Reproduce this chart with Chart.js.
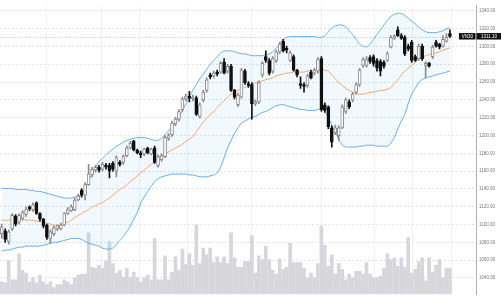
<!DOCTYPE html>
<html><head><meta charset="utf-8">
<script src="https://cdn.jsdelivr.net/npm/chart.js@4/dist/chart.umd.min.js"></script>
<style>html,body{margin:0;padding:0;background:#fff;overflow:hidden}#wrap{width:501px;height:300px}</style>
</head><body><div id="wrap"><canvas id="c" width="501" height="300"></canvas></div>
<script>
const symbol = 'VN30';
const lastPrice = 1311.10;
const priceTicks = [1040,1060,1080,1100,1120,1140,1160,1180,1200,1220,1240,1260,1280,1300,1320,1340];
const gridIdx = [2.1,23.4,34.0,45.3,61.4,82.4,101.7,112.6,123.9];

const open = [1089.7,1093.0,1081.1,1095.1,1109.2,1102.7,1107.0,1111.3,1120.0,1116.7,
1124.3,1112.4,1105.9,1099.4,1084.3,1089.7,1095.1,1095.1,1099.4,1112.4,
1115.6,1116.7,1127.5,1138.4,1132.9,1144.8,1155.6,1161.0,1164.3,1162.1,
1166.4,1166.4,1168.6,1160.0,1169.7,1169.7,1177.2,1185.9,1193.4,1183.7,
1180.5,1179.4,1185.9,1179.4,1185.9,1166.4,1172.9,1176.2,1196.7,1201.0,
1212.9,1218.3,1229.1,1241.0,1244.2,1241.0,1242.0,1221.5,1239.9,1250.7,
1268.0,1266.9,1271.2,1271.2,1282.0,1272.3,1277.7,1250.7,1234.5,1243.1,
1272.3,1258.2,1257.2,1235.6,1237.7,1268.0,1288.5,1284.2,1272.3,1284.2,
1293.9,1305.8,1298.2,1284.2,1288.5,1273.4,1258.2,1257.2,1256.1,1271.2,
1270.1,1272.3,1286.3,1234.5,1232.3,1208.6,1203.2,1199.9,1208.6,1226.9,
1237.7,1239.9,1248.5,1257.2,1278.8,1278.8,1287.4,1288.5,1284.2,1283.1,
1282.0,1284.2,1299.3,1309.0,1318.7,1312.2,1310.1,1300.4,1304.7,1288.5,
1286.3,1300.4,1278.8,1280.9,1288.5,1304.7,1302.5,1300.4,1305.8,1314.4];

const high = [1100.5,1095.1,1094.0,1112.4,1111.3,1112.4,1115.6,1120.0,1121.0,1124.3,
1125.4,1113.5,1107.0,1100.5,1094.0,1098.4,1099.4,1101.6,1113.5,1118.9,
1122.1,1129.7,1134.0,1140.5,1147.0,1167.5,1164.3,1166.4,1166.4,1169.7,
1168.6,1168.6,1170.8,1177.2,1171.8,1178.3,1188.0,1193.4,1194.5,1184.8,
1182.6,1185.9,1187.0,1185.9,1188.0,1178.3,1179.4,1199.9,1202.1,1216.1,
1220.4,1229.1,1243.1,1246.4,1249.6,1245.3,1244.2,1236.6,1250.7,1264.7,
1270.1,1272.3,1273.4,1283.1,1286.3,1279.8,1279.8,1251.8,1247.4,1275.5,
1274.4,1260.4,1259.3,1239.9,1261.5,1283.1,1295.0,1286.3,1288.5,1296.0,
1304.7,1307.9,1300.4,1295.0,1290.6,1274.4,1265.8,1259.3,1269.0,1273.4,
1275.5,1287.4,1288.5,1236.6,1233.4,1210.7,1211.8,1210.7,1234.5,1242.0,
1239.9,1248.5,1259.3,1275.5,1287.4,1288.5,1289.6,1290.6,1286.3,1285.2,
1284.2,1293.9,1312.2,1313.3,1322.0,1314.4,1312.2,1302.5,1306.8,1290.6,
1302.5,1302.5,1283.1,1282.0,1301.4,1306.8,1303.6,1312.2,1314.4,1318.7];

const low = [1084.3,1080.0,1077.8,1093.0,1098.4,1100.5,1104.8,1109.2,1115.6,1114.6,
1111.3,1103.8,1096.2,1083.2,1078.9,1087.6,1093.0,1094.0,1098.4,1111.3,
1114.6,1115.6,1126.4,1130.8,1127.5,1143.8,1153.5,1158.9,1158.9,1160.0,
1162.1,1152.4,1160.0,1153.5,1165.4,1167.5,1176.2,1184.8,1182.6,1179.4,
1175.1,1177.2,1179.4,1178.3,1168.6,1164.3,1170.8,1175.1,1194.5,1198.8,
1210.7,1216.1,1226.9,1238.8,1237.7,1238.8,1222.6,1219.4,1237.7,1248.5,
1263.6,1264.7,1266.9,1270.1,1269.0,1270.1,1249.6,1241.0,1232.3,1242.0,
1257.2,1253.9,1218.3,1233.4,1235.6,1265.8,1282.0,1268.0,1270.1,1282.0,
1291.7,1293.9,1292.8,1283.1,1272.3,1265.8,1252.8,1248.5,1253.9,1263.6,
1268.0,1270.1,1226.9,1225.8,1207.5,1187.0,1201.0,1194.5,1207.5,1224.8,
1230.2,1237.7,1246.4,1255.0,1276.6,1276.6,1280.9,1277.7,1272.3,1266.9,
1275.5,1283.1,1298.2,1307.9,1311.2,1307.9,1289.6,1295.0,1282.0,1283.1,
1284.2,1284.2,1264.7,1276.6,1286.3,1299.3,1297.1,1299.3,1304.7,1310.1];

const close = [1097.3,1083.2,1091.9,1110.2,1100.5,1110.2,1113.5,1116.7,1117.8,1122.1,
1112.4,1105.9,1098.4,1085.4,1091.9,1096.2,1098.4,1099.4,1112.4,1116.7,
1120.0,1127.5,1131.9,1132.9,1144.8,1156.7,1162.1,1164.3,1161.0,1167.5,
1164.3,1160.0,1162.1,1175.1,1167.5,1176.2,1185.9,1191.3,1183.7,1180.5,
1178.3,1184.8,1180.5,1184.8,1169.7,1176.2,1177.2,1197.8,1199.9,1214.0,
1218.3,1226.9,1241.0,1244.2,1242.0,1243.1,1223.7,1234.5,1248.5,1262.6,
1265.8,1270.1,1269.0,1280.9,1270.1,1277.7,1250.7,1243.1,1245.3,1273.4,
1259.3,1256.1,1235.6,1237.7,1259.3,1280.9,1284.2,1270.1,1286.3,1293.9,
1302.5,1295.0,1296.0,1292.8,1273.4,1268.0,1256.1,1255.0,1266.9,1264.7,
1273.4,1285.2,1229.1,1228.0,1209.6,1192.4,1208.6,1208.6,1232.3,1239.9,
1232.3,1246.4,1257.2,1273.4,1285.2,1285.2,1283.1,1280.9,1275.5,1272.3,
1277.7,1291.7,1310.1,1311.2,1312.2,1309.0,1291.7,1297.1,1284.2,1284.2,
1300.4,1286.3,1280.9,1277.7,1299.3,1300.4,1299.3,1307.9,1310.1,1311.1];

const volume = [52,48,140,60,60,168,100,88,52,68,
48,80,52,40,52,28,40,40,60,52,
40,68,80,84,84,256,112,108,120,108,
140,220,128,88,100,72,108,72,92,68,
52,68,80,60,232,60,
60,160,60,92,156,100,188,124,168,120,
288,128,192,164,192,132,156,132,156,128,
256,152,112,112,136,136,244,88,160,144,
200,144,100,84,148,104,112,212,132,132,
132,108,68,88,68,128,
284,204,116,164,84,128,104,60,84,68,
96,96,84,132,84,68,68,76,108,168,
144,152,116,152,112,236,88,104,136,152,
56,152,92,120,144,68,108,108];

const bbUpper = [1140.5,1140.5,1140.5,1140.5,1139.4,1139.4,1139.4,1139.4,1138.3,1138.3,
1137.2,1137.2,1136.2,1135.1,1134.0,1132.9,1131.8,1130.8,1129.7,1129.7,
1129.7,1130.8,1131.8,1134.0,1140.5,1149.2,1156.7,1164.3,1170.8,1174.0,
1178.3,1181.6,1184.8,1188.0,1190.2,1192.4,1194.5,1195.6,1196.7,1197.8,
1197.8,1197.8,1196.7,1195.6,1194.5,1194.5,1196.7,1201.0,1205.3,1209.6,
1215.0,1220.4,1228.0,1235.6,1243.1,1250.7,1257.2,1263.6,1269.0,1274.4,
1279.8,1284.2,1288.5,1292.8,1295.0,1295.0,1295.0,1293.9,1292.8,1291.7,
1291.7,1290.6,1289.6,1289.6,1289.6,1289.6,1290.6,1291.7,1293.9,1298.2,
1302.5,1306.8,1310.1,1311.2,1311.2,1311.2,1311.2,1311.2,1311.2,1311.2,
1311.2,1310.1,1310.1,1312.2,1316.6,1320.9,1323.0,1324.1,1324.1,1322.0,
1317.6,1313.3,1307.9,1302.5,1300.4,1299.3,1302.5,1307.9,1313.3,1318.7,
1324.1,1329.5,1333.8,1336.0,1337.1,1337.1,1334.9,1331.7,1328.4,1325.2,
1322.0,1318.7,1316.6,1315.5,1315.5,1315.5,1316.6,1317.6,1319.8,1320.9];

const bbMiddle = [1104.8,1104.8,1104.8,1105.9,1105.9,1105.9,1105.9,1104.8,1104.8,1104.8,
1103.7,1103.7,1102.7,1101.6,1100.5,1099.4,1099.4,1099.4,1100.5,1102.7,
1104.8,1108.1,1110.2,1112.4,1114.6,1116.7,1120.0,1121.0,1123.2,1124.3,
1127.5,1129.7,1132.9,1136.2,1139.4,1141.6,1144.8,1148.1,1151.3,1154.6,
1157.8,1161.0,1164.3,1167.5,1170.8,1175.1,1177.2,1179.4,1181.6,1183.7,
1185.9,1188.0,1190.2,1193.4,1195.6,1198.8,1204.2,1209.6,1215.0,1219.4,
1223.7,1226.9,1231.2,1235.6,1238.8,1243.1,1246.4,1248.5,1250.7,1252.8,
1253.9,1256.1,1257.2,1259.3,1260.4,1261.5,1262.6,1263.6,1264.7,1266.9,
1268.0,1269.0,1270.1,1270.1,1271.2,1271.2,1271.2,1271.2,1272.3,1272.3,
1272.3,1273.4,1273.4,1273.4,1272.3,1268.0,1263.6,1259.3,1256.1,1252.8,
1250.7,1248.5,1247.4,1246.4,1246.4,1247.4,1248.5,1248.5,1249.6,1250.7,
1250.7,1251.8,1253.9,1258.2,1262.6,1268.0,1272.3,1275.5,1278.8,1282.0,
1285.2,1287.4,1289.6,1290.6,1291.7,1292.8,1293.9,1296.0,1297.1,1298.2];

const bbLower = [1070.3,1071.3,1071.3,1072.4,1073.5,1074.6,1074.6,1075.7,1075.7,1075.7,
1075.7,1075.7,1076.7,1077.8,1078.9,1080.0,1080.0,1081.1,1082.1,1083.2,
1084.3,1084.3,1084.3,1083.2,1081.1,1078.9,1077.8,1076.7,1075.7,1073.5,
1072.4,1072.4,1073.5,1077.8,1082.1,1086.5,1091.9,1098.3,1105.9,1113.5,
1124.3,1130.8,1137.2,1142.7,1148.1,1151.3,1153.5,1154.6,1155.6,1156.7,
1156.7,1156.7,1156.7,1156.7,1155.6,1155.6,1154.6,1153.5,1153.5,1153.5,
1154.6,1155.6,1157.8,1164.3,1175.1,1185.9,1194.5,1202.1,1208.6,1214.0,
1216.1,1218.3,1220.4,1221.5,1223.7,1225.8,1226.9,1229.1,1231.2,1233.4,
1234.5,1234.5,1233.4,1232.3,1231.2,1230.2,1229.1,1229.1,1228.0,1228.0,
1228.0,1229.1,1230.2,1226.9,1220.4,1211.8,1204.2,1195.6,1189.1,1187.0,
1187.0,1187.0,1187.0,1188.0,1188.0,1189.1,1189.1,1189.1,1188.0,1188.0,
1188.0,1188.0,1191.3,1197.8,1207.5,1216.1,1223.7,1235.6,1246.4,1252.8,
1259.3,1262.6,1264.7,1265.8,1266.9,1268.0,1269.0,1270.1,1271.2,1272.3];

const up = open.map((o,i) => close[i] >= o);
const pts = arr => arr.map((v,i) => ({x:i, y:v}));
const FONT = '"Liberation Sans", Arial, sans-serif';

const lastBox = {
  id: 'lastBox',
  beforeDatasetsDraw(chart) {
    const {ctx, chartArea} = chart;
    const y = Math.round(chart.scales.y.getPixelForValue(lastPrice)) + 0.5;
    ctx.save();
    ctx.strokeStyle = '#c4c4c4';
    ctx.lineWidth = 1;
    ctx.setLineDash([1, 1.5]);
    ctx.beginPath();
    ctx.moveTo(chartArea.left, y);
    ctx.lineTo(chartArea.right, y);
    ctx.stroke();
    ctx.restore();
  },
  afterDraw(chart) {
    const {ctx, chartArea} = chart;
    const y = chart.scales.y.getPixelForValue(lastPrice);
    ctx.save();
    ctx.fillStyle = '#111';
    ctx.fillRect(chartArea.right - 17, y - 3.5, 16.5, 6.5);
    ctx.fillRect(chartArea.right + 0.5, y - 3.5, chart.width - chartArea.right, 6.5);
    ctx.fillStyle = '#fff';
    ctx.font = '4.5px ' + FONT;
    ctx.textAlign = 'center';
    ctx.textBaseline = 'middle';
    ctx.fillText(symbol, chartArea.right - 8.7, y - 0.2);
    ctx.fillText(lastPrice.toFixed(2), (chartArea.right + chart.width) / 2 + 0.5, y - 0.2);
    ctx.restore();
  }
};

new Chart(document.getElementById('c'), {
  data: {
    datasets: [
      {type:'bar', label:'Volume', data: pts(volume), yAxisID:'yVol',
       backgroundColor:'#d7d7db', barThickness:3, grouped:false, order:6},
      {type:'line', label:'Upper', data: pts(bbUpper), borderColor:'#62abf0', borderWidth:1,
       pointRadius:0, fill:'+1', backgroundColor:'rgba(33,150,243,0.06)', tension:0.2, order:5},
      {type:'line', label:'Lower', data: pts(bbLower), borderColor:'#62abf0', borderWidth:1,
       pointRadius:0, fill:false, tension:0.2, order:5},
      {type:'line', label:'MA20', data: pts(bbMiddle), borderColor:'#f5a462', borderWidth:1,
       pointRadius:0, fill:false, tension:0.2, order:4},
      {type:'bar', label:'Wick', data: low.map((l,i) => ({x:i, y:[l, high[i]]})),
       backgroundColor: up.map(u => u ? '#8a8a8a' : '#111'), barThickness:1, grouped:false, order:3},
      {type:'bar', label:'Body', data: open.map((o,i) => ({x:i, y:[o, close[i]]})),
       backgroundColor: up.map(u => u ? '#ffffff' : '#111'),
       borderColor: up.map(u => u ? '#8a8a8a' : '#111'),
       borderWidth:1, borderSkipped:false, barThickness:3, grouped:false, order:2}
    ]
  },
  options: {
    responsive:false, animation:false, devicePixelRatio:1,
    layout:{padding:0},
    plugins:{legend:{display:false}, tooltip:{enabled:false}},
    scales:{
      x:{type:'linear', min:-0.5, max:136.5, offset:false,
         afterBuildTicks: a => { a.ticks = gridIdx.map(v => ({value:v})); },
         ticks:{display:false},
         grid:{color:'#f1f1f1', drawTicks:false, lineWidth:1},
         border:{display:false}},
      y:{position:'right', min:1021.64, max:1345.73,
         afterBuildTicks: a => { a.ticks = priceTicks.map(v => ({value:v})); },
         afterFit: s => { s.width = 25; },
         ticks:{callback: v => Number(v).toFixed(2), font:{size:4.5, family:FONT}, color:'#777', padding:3},
         grid:{color:'#e2e2e2', drawTicks:false, lineWidth:1},
         border:{display:true, color:'#b0b0b0', width:1, dash:[2,2]}},
      yVol:{display:false, min:0, max:1200}
    }
  },
  plugins:[lastBox]
});
</script>
</body></html>
